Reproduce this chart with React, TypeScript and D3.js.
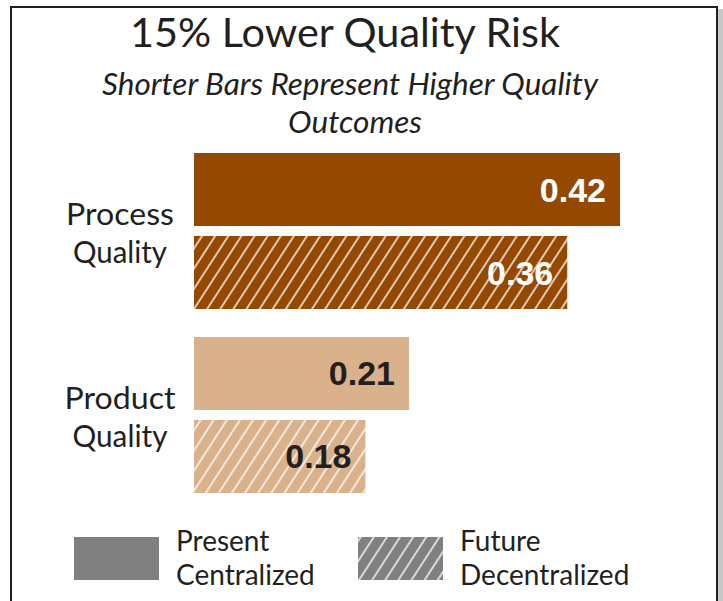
import React from "react";
import * as d3 from "d3";

const categories = ["Process Quality", "Product Quality"];
const categoryLines = [["Process", "Quality"], ["Product", "Quality"]];
const categoryLineWidths = [[108, 94], [111, 95]];
const seriesNames = ["Present Centralized", "Future Decentralized"];
const presentValues = [0.42, 0.212];
const futureValues = [0.368, 0.169];
const presentLabels = ["0.42", "0.21"];
const futureLabels = ["0.36", "0.18"];
const categoryColors = ["#954900", "#D9B28C"];
const labelColors = ["#FFFFFF", "#231F20"];
const legendLines = [["Present", "Centralized"], ["Future", "Decentralized"]];

const W = 723;
const H = 601;
const GILL = "'Lato', 'Open Sans', sans-serif";

export default function App() {
  const x = d3.scaleLinear().domain([0, 0.42]).range([194, 620]);
  const y0 = d3.scaleBand<string>().domain(categories).range([153, 493]).paddingInner(0.152).paddingOuter(0);
  const y1 = d3.scaleBand<string>().domain(seriesNames).range([0, y0.bandwidth()]).paddingInner(0.12);

  const rows = categories.map((c, i) => ({
    cat: c,
    i,
    bars: [
      { s: seriesNames[0], v: presentValues[i], label: presentLabels[i], hatch: false },
      { s: seriesNames[1], v: futureValues[i], label: futureLabels[i], hatch: true },
    ],
  }));

  const hatchDefs = [
    { id: "hatch0", color: categoryColors[0] },
    { id: "hatch1", color: categoryColors[1] },
    { id: "hatchG", color: "#808080" },
  ];

  return (
    <svg width={W} height={H} style={{ position: "absolute", left: 0, top: 0, background: "#fff" }}>
      <defs>
        {hatchDefs.map((h) => (
          <pattern key={h.id} id={h.id} patternUnits="userSpaceOnUse" width={11} height={11} patternTransform="rotate(33)">
            <rect width={11} height={11} fill={h.color} />
            <line x1={1} y1={0} x2={1} y2={11} stroke="#fff" strokeWidth={1.4} />
          </pattern>
        ))}
      </defs>
      <rect x={718} y={9} width={5} height={H} fill="#c8c8c8" />
      <rect x={11} y={7} width={706} height={H} fill="#fff" stroke="#231F20" strokeWidth={2} />

      <text x={345} y={47} textAnchor="middle" fontFamily={GILL} fontSize={40} fill="#231F20" textLength={430} lengthAdjust="spacingAndGlyphs">
        15% Lower Quality Risk
      </text>
      <text x={350} y={95} textAnchor="middle" fontFamily={GILL} fontStyle="italic" fontSize={31} fill="#231F20" textLength={496} lengthAdjust="spacingAndGlyphs">
        Shorter Bars Represent Higher Quality
      </text>
      <text x={355} y={133} textAnchor="middle" fontFamily={GILL} fontStyle="italic" fontSize={31} fill="#231F20" textLength={134} lengthAdjust="spacingAndGlyphs">
        Outcomes
      </text>

      {rows.map((r) => {
        const gy = y0(r.cat)!;
        const mid = gy + y0.bandwidth() / 2;
        return (
          <g key={r.cat}>
            {categoryLines[r.i].map((t, k) => (
              <text key={k} x={120} y={mid + (k === 0 ? -6 : 32)} textAnchor="middle" fontFamily={GILL} fontSize={31} fill="#231F20" textLength={categoryLineWidths[r.i][k]} lengthAdjust="spacingAndGlyphs">
                {t}
              </text>
            ))}
            {r.bars.map((b) => {
              const by = gy + y1(b.s)!;
              const bh = y1.bandwidth();
              return (
                <g key={b.s}>
                  <rect x={x(0)} y={by} width={x(b.v) - x(0)} height={bh} fill={b.hatch ? `url(#hatch${r.i})` : categoryColors[r.i]} />
                  <text x={x(b.v) - 14} y={by + bh / 2 + 12} textAnchor="end" fontFamily="'Liberation Sans', Arial, sans-serif" fontWeight="bold" fontSize={34} fill={labelColors[r.i]}>
                    {b.label}
                  </text>
                </g>
              );
            })}
          </g>
        );
      })}

      {legendLines.map((lines, i) => {
        const bx = i === 0 ? 74 : 358;
        return (
          <g key={i}>
            <rect x={bx} y={537} width={85} height={43} fill={i === 0 ? "#808080" : "url(#hatchG)"} />
            {lines.map((t, k) => (
              <text key={k} x={bx + 102} y={551 + k * 34} fontFamily={GILL} fontSize={28} fill="#231F20">
                {t}
              </text>
            ))}
          </g>
        );
      })}
    </svg>
  );
}
